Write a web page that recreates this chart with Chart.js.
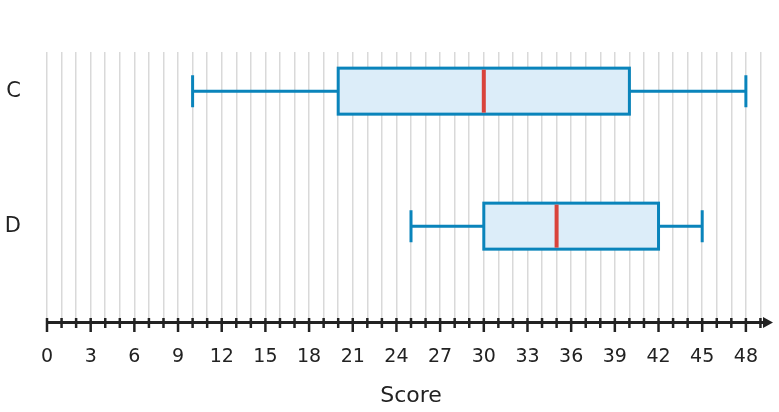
<!DOCTYPE html>
<html>
<head>
<meta charset="utf-8">
<script src="https://cdn.jsdelivr.net/npm/chart.js@4.4.0/dist/chart.umd.min.js"></script>
<style>
    html, body { margin: 0; padding: 0; background: #fff; }
    #wrap { width: 779px; height: 412px; }
</style>
</head>
<body>
<div id="wrap"><canvas id="chart"></canvas></div>
<script>
// Data
const categories = ['C', 'D'];
const mins = [10, 25];
const q1s = [20, 30];
const medians = [30, 35];
const q3s = [40, 42];
const maxs = [48, 45];
const xMin = 0;
const xMax = 50;
const labelStep = 3;

// Styles
const boxStroke = '#0a84bb';
const boxFill = '#dcedf9';
const medianColor = '#d9433b';
const axisColor = '#222222';
const fontFamily = "'DejaVu Sans', sans-serif";

// Box plots drawn through the chart scales
const boxPlugin = {
    id: 'boxes',
    afterDatasetsDraw(chart) {
        const { ctx, scales: { x, y } } = chart;
        const half = 23;
        const cap = 16;
        ctx.save();
        categories.forEach((c, i) => {
            const yc = y.getPixelForValue(i + 1);
            const xMinP = x.getPixelForValue(mins[i]);
            const xQ1 = x.getPixelForValue(q1s[i]);
            const xMed = x.getPixelForValue(medians[i]);
            const xQ3 = x.getPixelForValue(q3s[i]);
            const xMaxP = x.getPixelForValue(maxs[i]);

            ctx.strokeStyle = boxStroke;
            ctx.lineWidth = 3;
            // whiskers
            ctx.beginPath();
            ctx.moveTo(xMinP, yc); ctx.lineTo(xQ1, yc);
            ctx.moveTo(xQ3, yc); ctx.lineTo(xMaxP, yc);
            ctx.moveTo(xMinP, yc - cap); ctx.lineTo(xMinP, yc + cap);
            ctx.moveTo(xMaxP, yc - cap); ctx.lineTo(xMaxP, yc + cap);
            ctx.stroke();

            // box
            ctx.fillStyle = boxFill;
            ctx.fillRect(xQ1, yc - half, xQ3 - xQ1, half * 2);
            ctx.strokeRect(xQ1, yc - half, xQ3 - xQ1, half * 2);

            // median
            ctx.strokeStyle = medianColor;
            ctx.lineWidth = 4;
            ctx.beginPath();
            ctx.moveTo(xMed, yc - half + 1.5);
            ctx.lineTo(xMed, yc + half - 1.5);
            ctx.stroke();
        });
        ctx.restore();
    }
};

// Number line axis with arrow
const axisPlugin = {
    id: 'numberLine',
    afterDraw(chart) {
        const { ctx, chartArea, scales: { x } } = chart;
        const ay = chartArea.bottom + 0.5;
        const tip = x.getPixelForValue(xMax) - 2;
        ctx.save();
        ctx.strokeStyle = axisColor;
        ctx.fillStyle = axisColor;
        ctx.lineWidth = 3;
        ctx.beginPath();
        ctx.moveTo(x.getPixelForValue(xMin), ay);
        ctx.lineTo(tip - 8, ay);
        ctx.stroke();

        ctx.lineWidth = 2.5;
        for (let v = xMin; v < xMax; v++) {
            const px = x.getPixelForValue(v);
            const major = v % labelStep === 0;
            ctx.beginPath();
            ctx.moveTo(px, ay - 4.5);
            ctx.lineTo(px, ay + (major ? 9.5 : 5.5));
            ctx.stroke();
        }

        ctx.beginPath();
        ctx.moveTo(tip, ay);
        ctx.lineTo(tip - 10, ay - 5.5);
        ctx.lineTo(tip - 10, ay + 5.5);
        ctx.closePath();
        ctx.fill();
        ctx.restore();
    }
};

const ctx = document.getElementById('chart').getContext('2d');
const chart = new Chart(ctx, {
    type: 'scatter',
    data: { datasets: [] },
    options: {
        responsive: true,
        maintainAspectRatio: false,
        animation: false,
        layout: { padding: { top: 52, right: 4, bottom: 0, left: 0 } },
        plugins: {
            legend: { display: false },
            tooltip: { enabled: false }
        },
        scales: {
            x: {
                type: 'linear',
                min: xMin,
                max: xMax,
                afterFit: (s) => { s.height = 90; s.paddingLeft = 0; s.paddingRight = 0; },
                ticks: {
                    stepSize: 1,
                    autoSkip: false,
                    maxRotation: 0,
                    padding: 24,
                    color: axisColor,
                    font: { family: fontFamily, size: 19 },
                    callback: (v) => (v % labelStep === 0 && v < xMax) ? String(v) : ''
                },
                grid: {
                    drawTicks: false,
                    lineWidth: 1.5,
                    color: (c) => (c.tick && c.tick.value >= xMax) ? 'rgba(0,0,0,0)' : '#d9d9d9'
                },
                border: { display: false },
                title: {
                    display: true,
                    text: 'Score',
                    color: axisColor,
                    font: { family: fontFamily, size: 22 },
                    padding: { top: 0, bottom: 3 }
                }
            },
            y: {
                type: 'linear',
                min: 0.71,
                max: 2.71,
                reverse: true,
                afterBuildTicks: (s) => { s.ticks = categories.map((c, i) => ({ value: i + 1 })); },
                afterFit: (s) => { s.width = 47; s.paddingTop = 0; s.paddingBottom = 0; },
                ticks: {
                    padding: 26,
                    color: axisColor,
                    font: { family: fontFamily, size: 21 },
                    callback: (v) => categories[Math.round(v) - 1] || ''
                },
                grid: { display: false, drawTicks: false },
                border: { display: false }
            }
        }
    },
    plugins: [boxPlugin, axisPlugin]
});
</script>
</body>
</html>
